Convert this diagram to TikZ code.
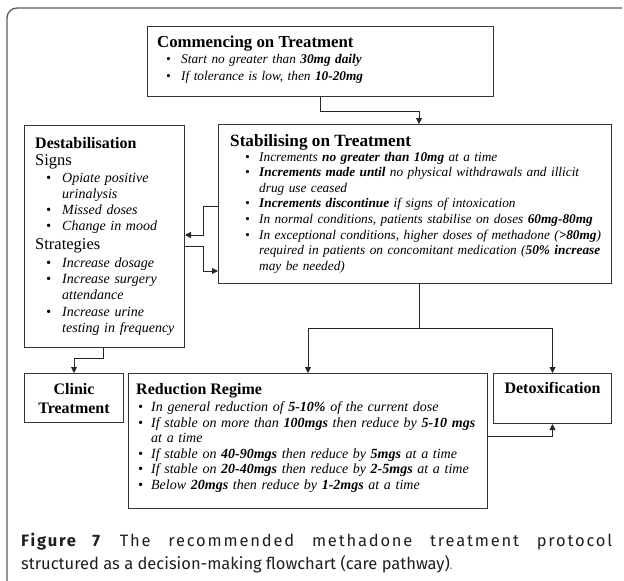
\documentclass[tikz,border=0pt]{standalone}
\usepackage{fontspec}
\setmainfont{Liberation Serif}
\newfontfamily\capfont{Fira Sans}
\usetikzlibrary{arrows.meta}
\newcommand\bpre[3]{\hangindent=\dimexpr#1+#2\relax\hangafter=1\hspace*{#1}\makebox[#2][l]{\textbullet}#3}
\newcommand\bitem[3]{\par\noindent\bpre{#1}{#2}{#3}}
\begin{document}
\begin{tikzpicture}[x=1pt,y=-1pt,
  box/.style={draw=black!80, line width=1pt, inner sep=0pt, anchor=north west},
  conn/.style={draw=black!85, line width=0.9pt, -{Triangle[length=6pt,width=6pt]}},
  plain/.style={draw=black!85, line width=0.9pt},
  ttl/.style={anchor=base west, inner sep=0pt, font=\fontsize{16}{18}\selectfont\bfseries},
  lst/.style={anchor=base west, inner sep=0pt, text width=390pt, align=left},
]
\useasboundingbox (0,0) rectangle (624,581);
% outer frame
\draw[black!65, line width=1.3pt, rounded corners=10pt] (7,582) -- (7,8) -- (622,8);

% boxes
\node[box, minimum width=346pt, minimum height=70pt] (comm) at (147,26) {};
\node[box, minimum width=393pt, minimum height=159pt] (stab) at (218,124) {};
\node[box, minimum width=160pt, minimum height=222pt] (destab) at (24,125) {};
\node[box, minimum width=99pt, minimum height=49pt] (clinic) at (24,373) {};
\node[box, minimum width=359pt, minimum height=135pt] (red) at (128,373) {};
\node[box, minimum width=118pt, minimum height=50pt] (detox) at (493,373) {};

% Commencing text
\node[ttl, font=\fontsize{16.8}{18}\selectfont\bfseries] (commt) at (157,47) {Commencing on Treatment};
\node[lst, font=\fontsize{13.3}{16.5}\selectfont\itshape] (commb) at (157,63.5) {%
\bpre{9pt}{15pt}{Start no greater than \textbf{30mg daily}}%
\bitem{9pt}{15pt}{If tolerance is low, then \textbf{10-20mg}}\par};

% Stabilising text
\node[ttl, font=\fontsize{17.2}{18}\selectfont\bfseries] (stabt) at (230,146) {Stabilising on Treatment};
\node[lst, font=\fontsize{13.3}{15.6}\selectfont\itshape] (stabb) at (230,161) {%
\bpre{15pt}{14pt}{Increments \textbf{no greater than 10mg} at a time}%
\bitem{15pt}{14pt}{\textbf{Increments made until} no physical withdrawals and illicit\newline drug use ceased}%
\bitem{15pt}{14pt}{\textbf{Increments discontinue} if signs of intoxication}%
\bitem{15pt}{14pt}{In normal conditions, patients stabilise on doses \textbf{60mg-80mg}}%
\bitem{15pt}{14pt}{In exceptional conditions, higher doses of methadone (\textbf{>80mg})\newline required in patients on concomitant medication (\textbf{50\% increase}\newline may be needed)}\par};

% Destabilisation text
\node[ttl] (destt) at (35,148) {Destabilisation};
\node[anchor=base west, inner sep=0pt, font=\fontsize{16.5}{18}\selectfont] (signs) at (35,165) {Signs};
\node[lst, text width=150pt, font=\fontsize{14}{16.2}\selectfont\itshape] (signb) at (35,182) {%
\bpre{11pt}{16pt}{Opiate positive\newline urinalysis}%
\bitem{11pt}{16pt}{Missed doses}%
\bitem{11pt}{16pt}{Change in mood}\par};
\node[anchor=base west, inner sep=0pt, font=\fontsize{16.5}{18}\selectfont] (strat) at (35,249) {Strategies};
\node[lst, text width=150pt, font=\fontsize{14}{16.4}\selectfont\itshape] (stratb) at (35,267) {%
\bpre{11pt}{16pt}{Increase dosage}%
\bitem{11pt}{16pt}{Increase surgery\newline attendance}%
\bitem{11pt}{16pt}{Increase urine\newline testing in frequency}\par};

% Clinic / Detox
\node[anchor=base, inner sep=0pt, align=center, font=\fontsize{16}{19}\selectfont\bfseries] (clinict) at ([yshift=-20pt]clinic.north |- 0,393) {Clinic\\Treatment};
\node[anchor=base, inner sep=0pt, font=\fontsize{16}{19}\selectfont\bfseries] (detoxt) at (detox.north |- 0,393) {Detoxification};

% Reduction text
\node[ttl] (redt) at (136,394) {Reduction Regime};
\node[lst, font=\fontsize{14}{15.5}\selectfont\itshape] (redb) at (136,411.5) {%
\bpre{2pt}{13pt}{In general reduction of \textbf{5-10\%} of the current dose}%
\bitem{2pt}{13pt}{If stable on more than \textbf{100mgs} then reduce by \textbf{5-10 mgs}\newline at a time}%
\bitem{2pt}{13pt}{If stable on \textbf{40-90mgs} then reduce by \textbf{5mgs} at a time}%
\bitem{2pt}{13pt}{If stable on \textbf{20-40mgs} then reduce by \textbf{2-5mgs} at a time}%
\bitem{2pt}{13pt}{Below \textbf{20mgs} then reduce by \textbf{1-2mgs} at a time}\par};

% connectors
\coordinate (j1) at (320,111);
\coordinate (j2) at (419,111);
\draw[conn] (comm.south -| j1) -- (j1) -- (j2) -- (stab.north -| j2);
\coordinate (j3) at (203,206);
\coordinate (j4) at (203,235);
\draw[conn] (stab.west |- j3) -- (j3) -- (j4) -- (destab.east |- j4);
\coordinate (j5) at (203,246);
\coordinate (j6) at (203,271);
\draw[conn] (destab.east |- j5) -- (j5) -- (j6) -- (stab.west |- j6);
\coordinate (j7) at (419,328);
\draw[plain] (stab.south -| j7) -- (j7);
\draw[conn] (j7) -| (red.north);
\draw[conn] (j7) -| (detox.north);
\coordinate (j8) at (103,358);
\draw[conn] (destab.south -| j8) -- (j8) -| (clinic.north);
\coordinate (j9) at (552,436);
\draw[conn] (red.east |- j9) -| (detox.south);

% caption
\node[anchor=base west, inner sep=0pt, text=black!88] (cap1) at (21,546) {\capfont\fontsize{16.5}{20}\selectfont\addfontfeature{LetterSpace=11}\makebox[591pt][s]{\textbf{Figure 7} The recommended methadone treatment protocol}};
\node[anchor=base west, inner sep=0pt, text=black!88] (cap2) at (21,569) {\capfont\fontsize{16.5}{20}\selectfont structured as a decision-making flowchart (care pathway)\textcolor{black!55}{\fontsize{12}{12}\selectfont.}};
\end{tikzpicture}
\end{document}
